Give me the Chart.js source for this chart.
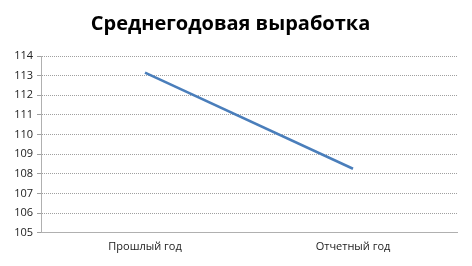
<!DOCTYPE html>
<html>
<head>
<meta charset="utf-8">
<script src="https://cdn.jsdelivr.net/npm/chart.js@4/dist/chart.umd.min.js"></script>
<style>
  html, body { margin: 0; padding: 0; background: #fff; }
  #wrap { width: 472px; height: 266px; }
</style>
</head>
<body>
<div id="wrap"><canvas id="chartVyrabotka"></canvas></div>
<script>
// Среднегодовая выработка
const categories = ['Прошлый год', 'Отчетный год'];
const values = [113.15, 108.26];
const yTicks = [105, 106, 107, 108, 109, 110, 111, 112, 113, 114];

const ctx = document.getElementById('chartVyrabotka');
new Chart(ctx, {
  type: 'line',
  data: {
    labels: categories,
    datasets: [{
      label: 'Выработка',
      data: values,
      borderColor: '#4a7ebb',
      borderWidth: 2.5,
      pointRadius: 0,
      tension: 0
    }]
  },
  options: {
    responsive: true,
    maintainAspectRatio: false,
    animation: false,
    layout: { padding: { left: 4, right: 15, top: 8, bottom: 6 } },
    plugins: {
      legend: { display: false },
      tooltip: { enabled: false },
      title: {
        display: true,
        text: 'Среднегодовая выработка',
        color: '#000',
        font: { family: 'Open Sans', size: 20, weight: 'bold' },
        padding: { top: 4, bottom: 20 }
      }
    },
    scales: {
      x: {
        offset: true,
        grid: { display: false, drawTicks: false },
        border: { display: true, color: '#b0b0b0', dash: [1, 1] },
        ticks: { color: '#222', font: { family: 'Open Sans', size: 11 }, padding: 7 }
      },
      y: {
        min: yTicks[0],
        max: yTicks[yTicks.length - 1],
        afterBuildTicks: axis => { axis.ticks = yTicks.map(v => ({ value: v })); },
        grid: { color: '#a0a0a0', tickLength: 4, tickColor: '#a0a0a0' },
        border: { display: true, color: '#b0b0b0', dash: [1, 1] },
        ticks: { color: '#222', font: { family: 'Open Sans', size: 11 }, padding: 4 },
        afterFit: axis => { axis.width = 37; }
      }
    }
  },
  plugins: [{
    id: 'dottedGrid',
    beforeDraw: chart => {
      const g = chart.scales.y.options.grid;
      g.borderDash = [1, 1];
    }
  }]
});
</script>
</body>
</html>
